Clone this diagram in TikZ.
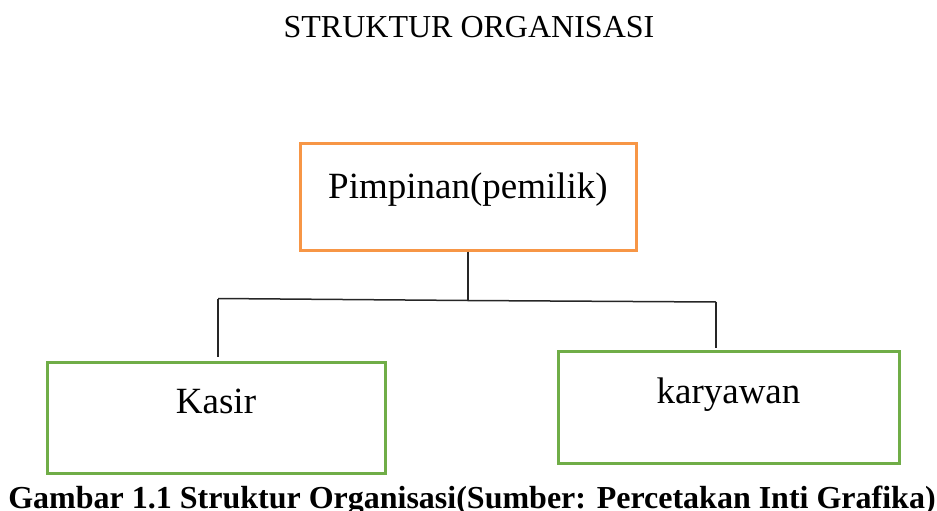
\documentclass[tikz,border=0pt]{standalone}
\usepackage{fontspec}
\setmainfont{Liberation Serif}
\usepackage{tikz}
\usetikzlibrary{calc}
\usepackage{color}
\definecolor{oranye}{HTML}{F79646}
\definecolor{hijau}{HTML}{70AD47}

\tikzset{
  kotak/.style={draw,line width=3pt,inner sep=0pt,font=\fontsize{37}{44}\selectfont},
  garis/.style={line width=1.5pt,black!85}
}

\begin{document}
\begin{tikzpicture}[x=1pt,y=-1pt]

\useasboundingbox (0,0) rectangle (937,511);

\node[anchor=base,font=\fontsize{32}{38}\selectfont] (judul) at (469,38) {STRUKTUR ORGANISASI};

\node[kotak,oranye,text=black,minimum width=336pt,text height=55pt,text depth=52pt] (pimpinan) at (468,196.5) {Pimpinan(pemilik)};
\node[kotak,hijau,text=black,minimum width=338pt,text height=51pt,text depth=60pt] (kasir) at (216,417.5) {Kasir};
\node[kotak,hijau,text=black,minimum width=341pt,text height=52pt,text depth=60pt] (karyawan) at (728.5,407) {karyawan};

\coordinate (tengah) at (468,300.5);
\coordinate (kiri) at (218,298.5);
\coordinate (kanan) at (716,302);
\coordinate (kiribawah) at (218,357);
\coordinate (kananbawah) at (716,348);

\draw[garis] (pimpinan.south) -- (tengah);
\draw[garis] (kiri) -- (tengah) -- (kanan);
\draw[garis] (kiri) -- (kiribawah);
\draw[garis] (kanan) -- (kananbawah);

\node[anchor=base,font=\bfseries\fontsize{32}{38}\selectfont] (keterangan) at (472,508) {Gambar 1.1 Struktur Organisasi(Sumber: Percetakan Inti Grafika)};

\end{tikzpicture}
\end{document}
